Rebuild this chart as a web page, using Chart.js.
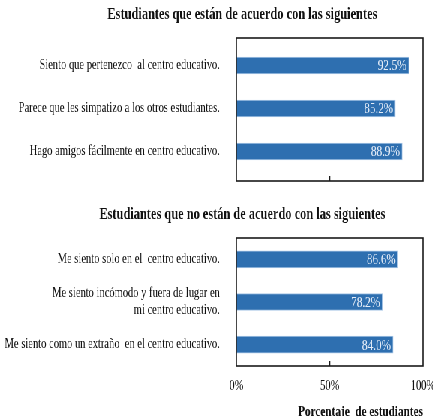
<!DOCTYPE html>
<html>
<head>
<meta charset="utf-8">
<script src="https://cdn.jsdelivr.net/npm/chart.js@4/dist/chart.umd.min.js"></script>
<style>
  html, body { margin: 0; padding: 0; background: #fff; overflow: hidden; }
  /* the original picture is squeezed sideways, so the whole drawing is too */
  #wrap { width: 578px; transform: scaleX(0.75); transform-origin: 0 0; }
  canvas { display: block; }
</style>
</head>
<body>
<div id="wrap">
  <canvas id="topChart" width="578" height="200"></canvas>
  <canvas id="bottomChart" width="578" height="216"></canvas>
</div>
<script>
const topTitle = 'Estudiantes que están de acuerdo con las siguientes'
const topLabels = [
    'Siento que pertenezco  al centro educativo.',
    'Parece que les simpatizo a los otros estudiantes.',
    'Hago amigos fácilmente en centro educativo.'
]
const topValues = [92.5, 85.2, 88.9]

const bottomTitle = 'Estudiantes que no están de acuerdo con las siguientes'
const bottomLabels = [
    'Me siento solo en el  centro educativo.',
    ['Me siento incómodo y fuera de lugar en', 'mi centro educativo.'],
    'Me siento como un extraño  en el centro educativo.'
]
const bottomValues = [86.6, 78.2, 84.0]

const xTickValues = [0, 50, 100]
const xTitle = 'Porcentaje  de estudiantes'

const serif = "'Liberation Serif', 'DejaVu Serif', serif"
const barBlue = '#2e6fb0'

// title, frame, 50% tick and value labels
const decor = {
    id: 'decor',
    afterDraw(chart, args, opts) {
        const ctx = chart.ctx
        const area = chart.chartArea
        const x = chart.scales.x
        ctx.save()
        ctx.fillStyle = '#111'
        ctx.font = 'bold 16.5px ' + serif
        ctx.textAlign = 'center'
        ctx.textBaseline = 'middle'
        ctx.fillText(opts.title, 323, 15)

        const top = area.top - opts.padTop
        const bottom = area.bottom + opts.padBottom
        ctx.strokeStyle = '#1a1a1a'
        ctx.lineWidth = 1.6
        ctx.strokeRect(area.left, top, area.right - area.left, bottom - top)
        const mid = x.getPixelForValue(50)
        ctx.beginPath()
        ctx.moveTo(mid, bottom)
        ctx.lineTo(mid, bottom - 5)
        ctx.stroke()

        ctx.font = '15px ' + serif
        ctx.fillStyle = '#e4ecf7'
        ctx.textAlign = 'right'
        chart.getDatasetMeta(0).data.forEach((bar, i) => {
            const v = chart.data.datasets[0].data[i]
            ctx.fillText(v.toFixed(1) + '%', bar.x - 3, bar.y + 1)
        })
        ctx.restore()
    }
}

function makeChart(id, title, labels, values, showAxis, padTop, padBottom, layoutPad) {
    return new Chart(document.getElementById(id), {
        type: 'bar',
        data: {
            labels: labels,
            datasets: [{
                data: values,
                backgroundColor: barBlue,
                borderColor: '#a8c6e6',
                borderWidth: 1,
                borderSkipped: false,
                barThickness: 17
            }]
        },
        options: {
            indexAxis: 'y',
            responsive: false,
            animation: false,
            layout: { padding: layoutPad },
            plugins: {
                legend: { display: false },
                tooltip: { enabled: false },
                decor: { title: title, padTop: padTop, padBottom: padBottom }
            },
            scales: {
                x: {
                    display: showAxis,
                    min: 0,
                    max: 100,
                    afterBuildTicks: (scale) => { scale.ticks = xTickValues.map(v => ({ value: v })) },
                    afterFit: (scale) => {
                        if (!showAxis) return
                        scale.height = 50
                        scale.paddingLeft = 0
                        scale.paddingRight = 0
                    },
                    grid: { display: false, drawTicks: false },
                    border: { display: false },
                    ticks: {
                        display: showAxis,
                        padding: 12,
                        color: '#111',
                        font: { family: serif, size: 14 },
                        callback: (v) => v + '%'
                    },
                    title: {
                        display: true,
                        text: xTitle,
                        align: 'end',
                        color: '#111',
                        font: { family: serif, size: 15, weight: 'bold' },
                        padding: { top: 6, bottom: -5 }
                    }
                },
                y: {
                    afterFit: (scale) => { scale.width = 315 },
                    grid: { display: false },
                    border: { display: false },
                    ticks: {
                        padding: 14,
                        color: '#111',
                        font: { family: serif, size: 14 }
                    }
                }
            }
        },
        plugins: [decor]
    })
}

makeChart('topChart', topTitle, topLabels, topValues, false, 6, 8,
    { top: 44, bottom: 27, left: 0, right: 14 })
makeChart('bottomChart', bottomTitle, bottomLabels, bottomValues, true, 0, 0,
    { top: 38, bottom: 0, left: 0, right: 14 })
</script>
</body>
</html>
